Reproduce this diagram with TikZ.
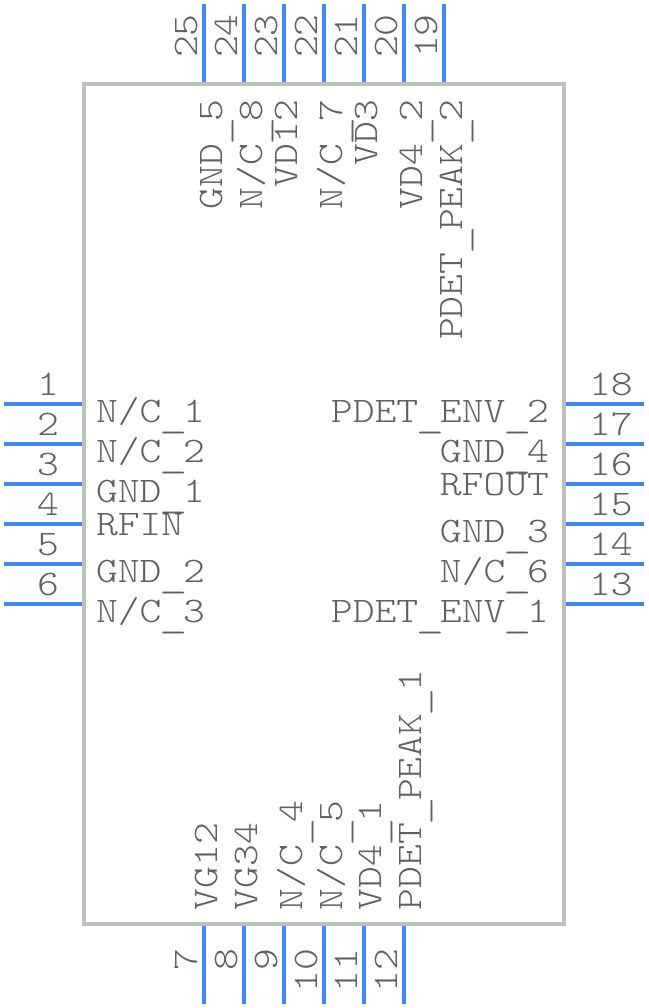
\documentclass[tikz,border=0pt]{standalone}
\usepackage{graphicx}
\usepackage{fontspec}
\newfontfamily\pinfont[FakeStretch=1.155]{Latin Modern Mono Light}
\newcommand{\us}{\makebox[21.7pt][c]{\hspace{2pt}\smash{\raisebox{-5pt}{\scalebox{1.3}[1]{\_}}}}}
\definecolor{pinblue}{HTML}{4287F5}
\definecolor{bodygray}{HTML}{BFBFBF}
\definecolor{textgray}{HTML}{606060}
\tikzset{
  pinline/.style={draw=pinblue,line width=4pt},
  bodybox/.style={draw=bodygray,line width=4pt},
  lbl/.style={inner sep=0pt,outer sep=0pt,text=textgray,font=\pinfont\fontsize{36}{36}\selectfont},
  hw/.style={lbl,anchor=base west},
  he/.style={lbl,anchor=base east},
  vw/.style={lbl,rotate=90,anchor=base west},
  ve/.style={lbl,rotate=90,anchor=base east}
}
\begin{document}
\begin{tikzpicture}[x=1pt,y=-1pt]
\useasboundingbox (0,0) rectangle (648,1008);
\draw[bodybox] (84,84) rectangle (564,924);
% left pins and numbers
\foreach \n/\y in {1/404,2/444,3/484,4/524,5/564,6/604}{
  \coordinate (la\n) at (4,\y); \coordinate (lb\n) at (82,\y);
  \draw[pinline] (la\n) -- (lb\n);
  \node[he] (ln\n) at (59,\y-9) {\n};
}
% right pins and numbers
\foreach \n/\y in {18/404,17/444,16/484,15/524,14/564,13/604}{
  \coordinate (ra\n) at (566,\y); \coordinate (rb\n) at (644,\y);
  \draw[pinline] (ra\n) -- (rb\n);
  \node[hw] (rn\n) at (589,\y-9) {\n};
}
% top pins and numbers
\foreach \n/\x in {25/204,24/244,23/284,22/324,21/364,20/404,19/444}{
  \coordinate (ta\n) at (\x,4); \coordinate (tb\n) at (\x,82);
  \draw[pinline] (ta\n) -- (tb\n);
  \node[vw] (tn\n) at (\x-7,58) {\n};
}
% bottom pins and numbers
\foreach \n/\x in {7/204,8/244,9/284,10/324,11/364,12/404}{
  \coordinate (ba\n) at (\x,926); \coordinate (bb\n) at (\x,1004);
  \draw[pinline] (ba\n) -- (bb\n);
  \node[ve] (bn\n) at (\x-7,949) {\n};
}
% left names
\node[hw] (a1) at (96,422) {N/C\us1};
\node[hw] (a2) at (96,462) {N/C\us2};
\node[hw] (a3) at (96,502) {GND\us1};
\node[hw] (a4) at (96,535) {RFIN};
\node[hw] (a5) at (96,582) {GND\us2};
\node[hw] (a6) at (96,622) {N/C\us3};
% right names
\node[he] (b1) at (549,422) {PDET\us ENV\us2};
\node[he] (b2) at (549,462) {GND\us4};
\node[he] (b3) at (549,495) {RFOUT};
\node[he] (b4) at (549,542) {GND\us3};
\node[he] (b5) at (549,582) {N/C\us6};
\node[he] (b6) at (549,622) {PDET\us ENV\us1};
% top names
\node[ve] (c1) at (222,100) {GND\us5};
\node[ve] (c2) at (262,100) {N/C\us8};
\node[ve] (c3) at (297,100) {VD12};
\node[ve] (c4) at (342,100) {N/C\us7};
\node[ve] (c5) at (377,100) {VD3};
\node[ve] (c6) at (422,100) {VD4\us2};
\node[ve] (c7) at (462,100) {PDET\us PEAK\us2};
% bottom names
\node[vw] (d1) at (217,910) {VG12};
\node[vw] (d2) at (257,910) {VG34};
\node[vw] (d3) at (302,910) {N/C\us4};
\node[vw] (d4) at (342,910) {N/C\us5};
\node[vw] (d5) at (381,910) {VD4\us1};
\node[vw] (d6) at (421,910) {PDET\us PEAK\us1};
\end{tikzpicture}
\end{document}
